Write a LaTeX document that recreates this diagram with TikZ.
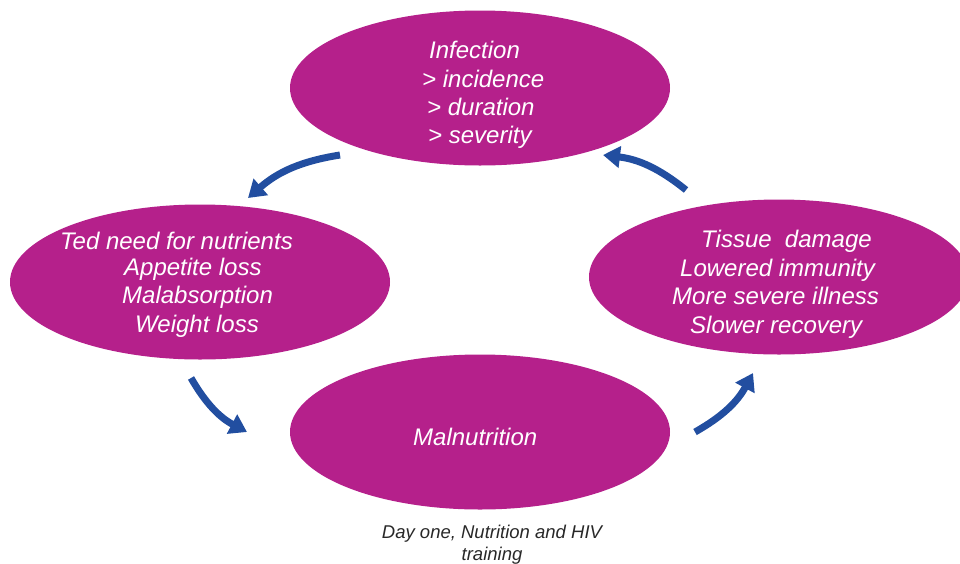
\documentclass[tikz,border=0pt]{standalone}
\usepackage{fontspec}
\setmainfont{Liberation Sans}
\usetikzlibrary{shapes.geometric,arrows.meta}
\definecolor{blobmag}{RGB}{181,32,139}
\definecolor{arrblue}{RGB}{34,78,160}
\definecolor{foot}{RGB}{40,40,40}
\begin{document}
\begin{tikzpicture}[x=1pt,y=-1pt,
  blob/.style={ellipse,fill=blobmag,draw=none,minimum width=380pt,minimum height=155pt,inner sep=0pt},
  txt/.style={anchor=base west,inner sep=0pt,text=white,font=\fontsize{24}{28}\selectfont\itshape},
  foottxt/.style={anchor=base,inner sep=0pt,text=foot,font=\fontsize{18.5}{22}\selectfont\itshape},
  cyc/.style={draw=arrblue,line width=7pt,-{Triangle[length=17pt,width=21pt]},bend right=16}]
\useasboundingbox (0,0) rectangle (960,563);
\node[blob] (inf) at (480,88) {};
\node[blob] (ted) at (200,282) {};
\node[blob] (tis) at (779,277) {};
\node[blob] (mal) at (480,432) {};
% top
\node[txt] (i1) at (429,58) {Infection};
\node[txt] (i2) at (422,87) {> incidence};
\node[txt] (i3) at (427,115) {> duration};
\node[txt] (i4) at (428,143) {> severity};
% left
\node[txt] (l1) at (60,249) {Ted need for nutrients};
\node[txt] (l2) at (124,275) {Appetite loss};
\node[txt] (l3) at (122,303) {Malabsorption};
\node[txt] (l4) at (135,332) {Weight loss};
% right
\node[txt] (r1) at (701,247) {Tissue\ \ damage};
\node[txt] (r2) at (680,276) {Lowered immunity};
\node[txt] (r3) at (672,304) {More severe illness};
\node[txt] (r4) at (690,333) {Slower recovery};
% bottom
\node[txt] (m1) at (413,445) {Malnutrition};
% footer
\node[foottxt] (f1) at (492,538) {Day one, Nutrition and HIV};
\node[foottxt] (f2) at (492,560) {training};
% arrows
\coordinate (a1s) at (340,155);
\coordinate (a1e) at (248,198);
\coordinate (a2s) at (191,378);
\coordinate (a2e) at (247,432);
\coordinate (a3s) at (695,432);
\coordinate (a3e) at (753,373);
\coordinate (a4s) at (686,190);
\coordinate (a4e) at (603,155);
\draw[cyc] (a1s) to (a1e);
\draw[cyc] (a2s) to (a2e);
\draw[cyc] (a3s) to (a3e);
\draw[cyc] (a4s) to (a4e);
\end{tikzpicture}
\end{document}
